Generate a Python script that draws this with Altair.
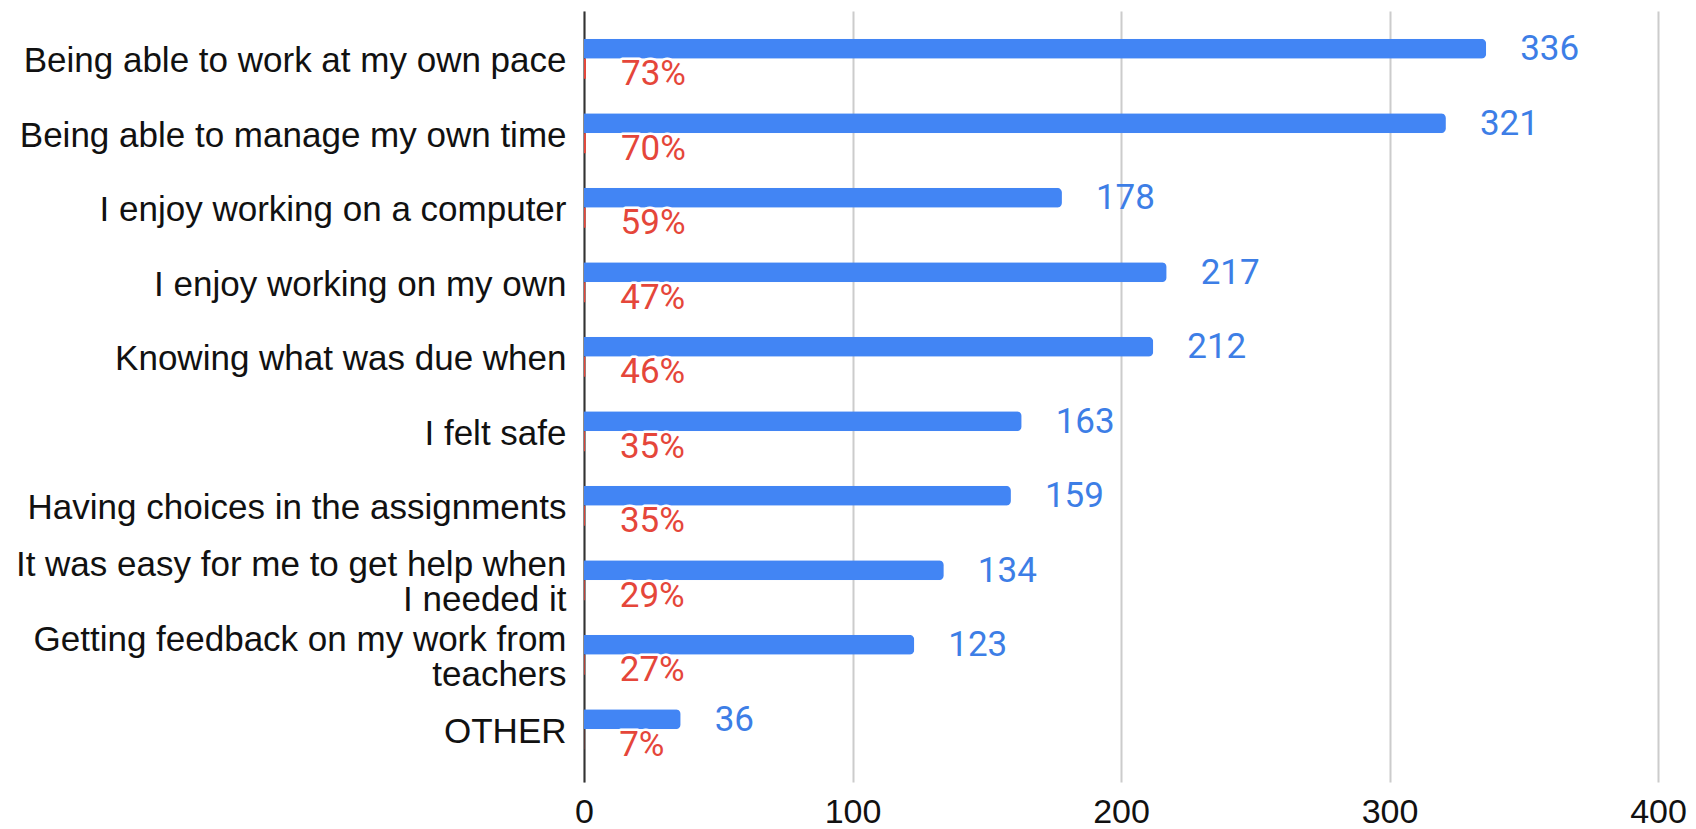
import altair as alt
import pandas as pd

categories = [
    "Being able to work at my own pace",
    "Being able to manage my own time",
    "I enjoy working on a computer",
    "I enjoy working on my own",
    "Knowing what was due when",
    "I felt safe",
    "Having choices in the assignments",
    "It was easy for me to get help when|I needed it",
    "Getting feedback on my work from|teachers",
    "OTHER",
]
counts = [336, 321, 178, 217, 212, 163, 159, 134, 123, 36]
percents = [73, 70, 59, 47, 46, 35, 35, 29, 27, 7]

df = pd.DataFrame({
    "cat": categories,
    "count": counts,
    "pctval": [p / 100 for p in percents],
    "pctlabel": [f"{p}%" for p in percents],
})

FONT = "Liberation Sans"
BLUE = "#4285f4"
RED = "#e5463a"

y_enc = alt.Y(
    "cat:N",
    sort=categories,
    scale=alt.Scale(paddingInner=0, paddingOuter=0.175),
    axis=alt.Axis(
        title=None,
        domainColor="#333333",
        domainWidth=2,
        ticks=False,
        grid=False,
        labelFont=FONT,
        labelFontSize=35,
        labelColor="#111111",
        labelPadding=18,
        labelLimit=1000,
        labelLineHeight=35,
        labelExpr="split(datum.label, '|')",
        labelOffset=alt.condition("indexof(datum.value, '|') >= 0", alt.value(-17.5), alt.value(0)),
    ),
)

x_scale = alt.Scale(domain=[0, 400], nice=False, zero=True)
x_axis = alt.Axis(
    title=None,
    domain=False,
    ticks=False,
    grid=True,
    gridColor="#cccccc",
    gridWidth=2,
    values=[0, 100, 200, 300, 400],
    labelFont=FONT,
    labelFontSize=34,
    labelColor="#111111",
    labelPadding=13,
    labelFlush=False,
)

base = alt.Chart(df)

blue_bars = base.mark_bar(color=BLUE, height=20, yOffset=-12.5, cornerRadiusEnd=5).encode(
    x=alt.X("count:Q", scale=x_scale, axis=x_axis),
    y=y_enc,
)

red_bars = base.mark_bar(color=RED, height=20, yOffset=7.5).encode(
    x=alt.X("pctval:Q", scale=x_scale),
    y=y_enc,
)

blue_text = base.mark_text(
    align="left", baseline="middle", dx=34, dy=-12, font="Roboto", fontSize=35, color="#3d7ee6"
).encode(
    x=alt.X("count:Q", scale=x_scale),
    y=y_enc,
    text="count:Q",
)

red_halo = base.mark_text(
    align="left", baseline="middle", dx=35, dy=13, font="Roboto", fontSize=35,
    color="white", stroke="white", strokeWidth=5, strokeJoin="round",
).encode(
    x=alt.X("pctval:Q", scale=x_scale),
    y=y_enc,
    text="pctlabel:N",
)

red_text = base.mark_text(
    align="left", baseline="middle", dx=35, dy=13, font="Roboto", fontSize=35, color=RED
).encode(
    x=alt.X("pctval:Q", scale=x_scale),
    y=y_enc,
    text="pctlabel:N",
)

chart = (
    alt.layer(blue_bars, red_bars, blue_text, red_halo, red_text)
    .properties(width=1074, height=771, padding={"left": 7, "top": 3, "right": 0, "bottom": 5})
    .configure_view(stroke=None)
)

chart.save("out.html", embed_options={"renderer": "svg", "actions": False})
